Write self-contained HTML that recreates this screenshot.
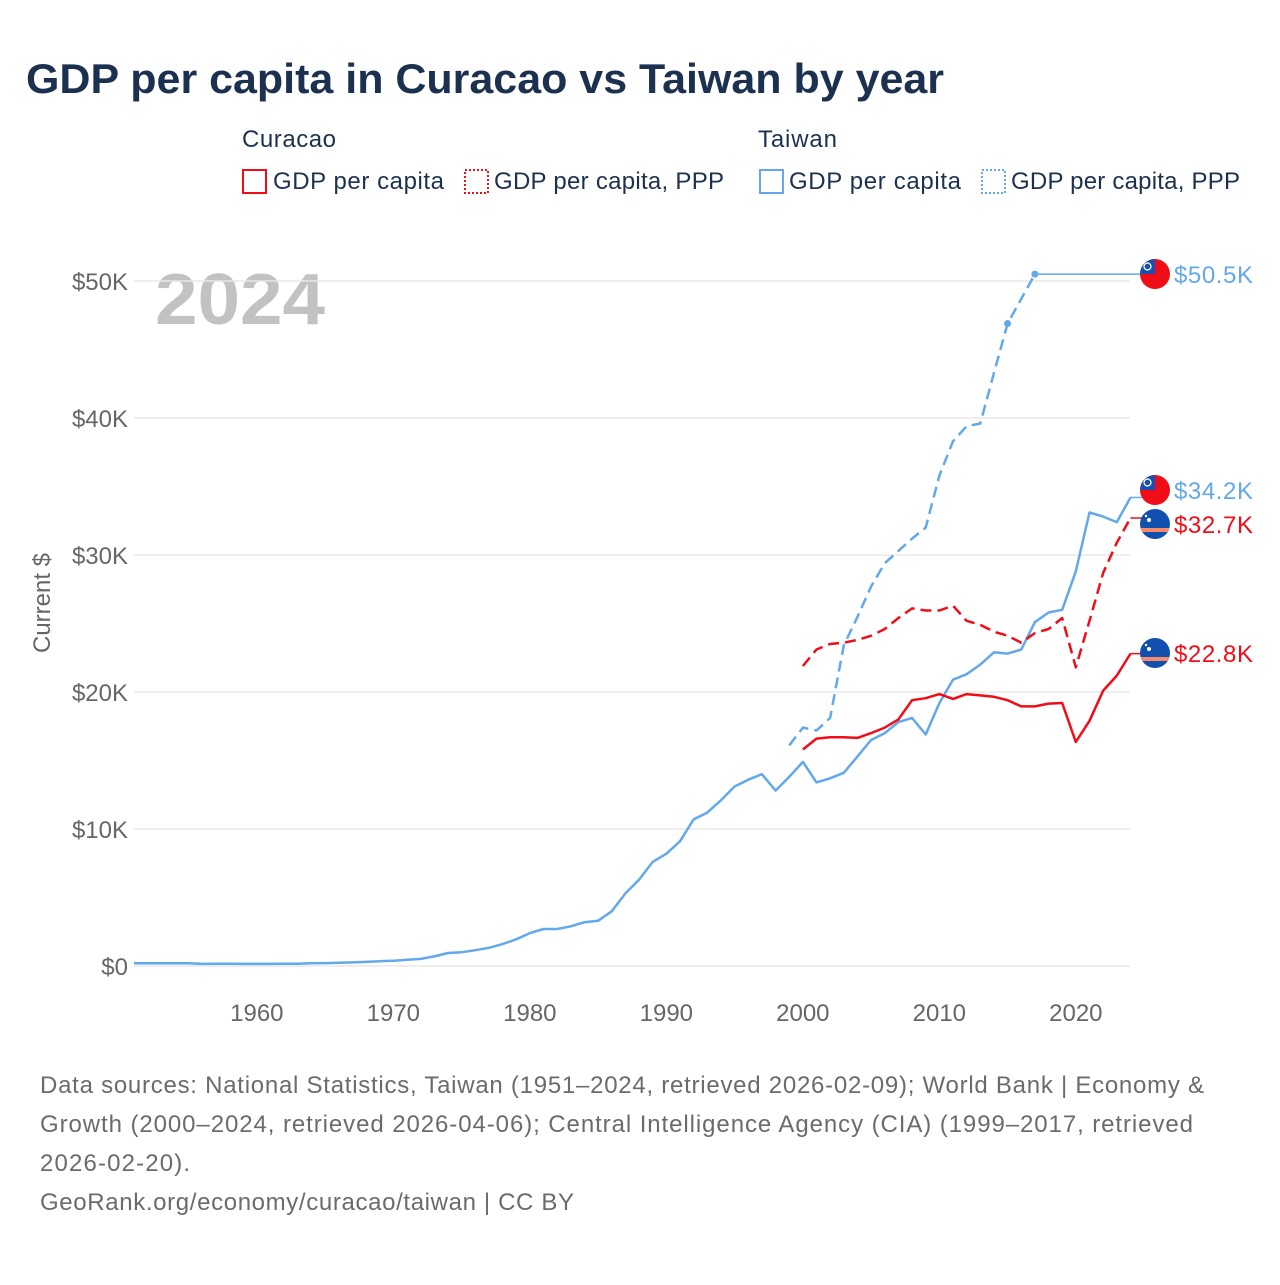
<!DOCTYPE html>
<html><head><meta charset="utf-8"><style>
body{margin:0;background:#fff;font-family:"Liberation Sans",sans-serif;}
svg text{font-family:"Liberation Sans",sans-serif;}
</style></head><body>
<svg id="chart" width="1280" height="1280" viewBox="0 0 1280 1280">
<text x="26" y="93" font-size="42" font-weight="bold" fill="#1c3150" textLength="918" lengthAdjust="spacingAndGlyphs">GDP per capita in Curacao vs Taiwan by year</text>
<g font-size="24" fill="#1c3150">
<text x="242" y="147" textLength="94">Curacao</text>
<text x="758" y="147" textLength="79">Taiwan</text>
<g><rect x="243" y="170" width="23" height="23" fill="none" stroke="#f00d17" stroke-width="2"/><text x="273" y="189" textLength="171">GDP per capita</text></g>
<g><rect x="465" y="170" width="23" height="23" fill="none" stroke="#f00d17" stroke-width="2" stroke-dasharray="2,2"/><text x="494" y="189" textLength="230">GDP per capita, PPP</text></g>
<g><rect x="760" y="170" width="23" height="23" fill="none" stroke="#62a8ea" stroke-width="2"/><text x="789" y="189" textLength="172">GDP per capita</text></g>
<g><rect x="982" y="170" width="23" height="23" fill="none" stroke="#62a8ea" stroke-width="2" stroke-dasharray="2,2"/><text x="1011" y="189" textLength="229">GDP per capita, PPP</text></g>
</g>
<text x="155" y="324" font-size="72" font-weight="bold" fill="#c2c2c4" textLength="170" lengthAdjust="spacingAndGlyphs">2024</text>
<text transform="translate(50,603) rotate(-90)" text-anchor="middle" font-size="24" fill="#666">Current $</text>
<g id="grid"></g><g id="ticks"></g><g id="series"></g><g id="ends"></g>
<g font-size="24" fill="#6b6b6b">
<text x="40" y="1093" textLength="1164">Data sources: National Statistics, Taiwan (1951–2024, retrieved 2026-02-09); World Bank | Economy &amp;</text>
<text x="40" y="1132" textLength="1153">Growth (2000–2024, retrieved 2026-04-06); Central Intelligence Agency (CIA) (1999–2017, retrieved</text>
<text x="40" y="1171" textLength="150">2026-02-20).</text>
<text x="40" y="1210" textLength="534">GeoRank.org/economy/curacao/taiwan | CC BY</text>
</g>
</svg>
<script>
const yTicks=[0,10,20,30,40,50];
const xTicks=[1960,1970,1980,1990,2000,2010,2020];
const twYears=[];for(let y=1951;y<=2024;y++)twYears.push(y);
const twGdp=[0.2,0.2,0.2,0.2,0.2,0.15,0.16,0.17,0.15,0.15,0.15,0.16,0.17,0.2,0.21,0.23,0.26,0.3,0.35,0.39,0.45,0.52,0.7,0.95,1.0,1.15,1.33,1.6,1.95,2.4,2.7,2.7,2.9,3.2,3.3,4.0,5.3,6.3,7.6,8.2,9.1,10.7,11.2,12.1,13.1,13.6,14.0,12.8,13.8,14.9,13.4,13.7,14.1,15.3,16.5,17.0,17.8,18.1,16.9,19.2,20.9,21.3,22.0,22.9,22.8,23.1,25.1,25.8,26.0,28.8,33.1,32.8,32.4,34.2];
const twPppYears=[1999,2000,2001,2002,2003,2004,2005,2006,2007,2008,2009,2010,2011,2012,2013,2014,2015,2016,2017];
const twPpp=[16.1,17.4,17.2,18.1,23.4,25.5,27.7,29.4,30.3,31.2,32.0,35.8,38.3,39.4,39.6,43.3,46.9,48.7,50.5];
const cwYears=[];for(let y=2000;y<=2024;y++)cwYears.push(y);
const cwGdp=[15.8,16.6,16.7,16.7,16.65,17.0,17.4,18.0,19.4,19.55,19.85,19.5,19.85,19.75,19.65,19.4,18.95,18.95,19.15,19.2,16.35,17.9,20.1,21.2,22.8];
const cwPpp=[21.9,23.1,23.5,23.6,23.8,24.1,24.6,25.4,26.1,25.95,25.95,26.3,25.2,24.9,24.4,24.1,23.6,24.3,24.6,25.4,21.8,25.2,28.7,30.9,32.7];
const X=y=>134+(y-1951)*13.65, Y=v=>966-v*13.7;
const NS='http://www.w3.org/2000/svg';
function mk(tag,attrs,parent){const e=document.createElementNS(NS,tag);for(const k in attrs)e.setAttribute(k,attrs[k]);parent.appendChild(e);return e;}
const grid=document.getElementById('grid'),ticks=document.getElementById('ticks'),series=document.getElementById('series'),ends=document.getElementById('ends');
yTicks.forEach(v=>{
 const l=mk('line',{x1:134,x2:1130,y1:Y(v),y2:Y(v),stroke:'#e8e8e8','stroke-width':1.5},grid);
 
 
 const t=mk('text',{x:128,y:Y(v)+9,'text-anchor':'end','font-size':24,fill:'#666'},ticks);
 t.textContent=v===0?'$0':'$'+v+'K';
 
 
});
xTicks.forEach(v=>{
 const t=mk('text',{x:X(v),y:1021,'text-anchor':'middle','font-size':24,fill:'#666'},ticks);
 t.textContent=v;
 
 
});
function line(xs,vs,color,dash,name){
 const d=xs.map((x,i)=>(i?'L':'M')+X(x).toFixed(1)+','+Y(vs[i]).toFixed(1)).join('');
 const p=mk('path',{d:d,fill:'none',stroke:color,'stroke-width':2.5,'stroke-dasharray':dash||'none','stroke-linejoin':'round'},series);
 
 
}
line(twYears,twGdp,'#62a8ea',null,'taiwan-gdp-line');
line(twPppYears,twPpp,'#62a8ea','11,6','taiwan-ppp-line');
line(cwYears,cwGdp,'#f00d17',null,'curacao-gdp-line');
line(cwYears,cwPpp,'#f00d17','11,6','curacao-ppp-line');
[2015,2017].forEach(y=>{const i=twPppYears.indexOf(y);
 const c=mk('circle',{cx:X(y),cy:Y(twPpp[i]),r:3.5,fill:'#62a8ea'},series);
 
 });
function flag(cx,cy,tw,id){
 const g=mk('g',{},ends);
 
 
 const cp=mk('clipPath',{id:id},g);mk('circle',{cx:cx,cy:cy,r:15},cp);
 const inner=mk('g',{'clip-path':'url(#'+id+')'},g);
 if(tw){mk('rect',{x:cx-15,y:cy-15,width:30,height:30,fill:'#f00d17'},inner);
  mk('rect',{x:cx-15,y:cy-15,width:15,height:15,fill:'#1750b0'},inner);
  mk('circle',{cx:cx-7.5,cy:cy-7.5,r:3.5,fill:'none',stroke:'#fff','stroke-width':1.2},inner);}
 else{mk('rect',{x:cx-15,y:cy-15,width:30,height:30,fill:'#1250b0'},inner);
  mk('rect',{x:cx-15,y:cy+4,width:30,height:4,fill:'#f98a6a'},inner);
  mk('circle',{cx:cx-6,cy:cy-4,r:2,fill:'#fff'},inner);mk('circle',{cx:cx-9,cy:cy-8,r:1.2,fill:'#fff'},inner);}
}
function end(lastX,lastV,cy,label,color,tw,id){
 const l=mk('line',{x1:X(lastX),x2:1142,y1:Y(lastV),y2:Y(lastV),stroke:color,'stroke-width':1.5},ends);
 
 
 flag(1155,cy,tw,id);
 const t=mk('text',{x:1174,y:cy+9,'font-size':24,fill:color,textLength:79},ends);
 t.textContent=label;
 
 
}
end(2017,twPpp[twPpp.length-1],274,'$50.5K','#62a8ea',true,'f1');
end(2024,twGdp[twGdp.length-1],490,'$34.2K','#62a8ea',true,'f2');
end(2024,cwPpp[cwPpp.length-1],524,'$32.7K','#f00d17',false,'f3');
end(2024,cwGdp[cwGdp.length-1],653,'$22.8K','#f00d17',false,'f4');
</script>
</body></html>
